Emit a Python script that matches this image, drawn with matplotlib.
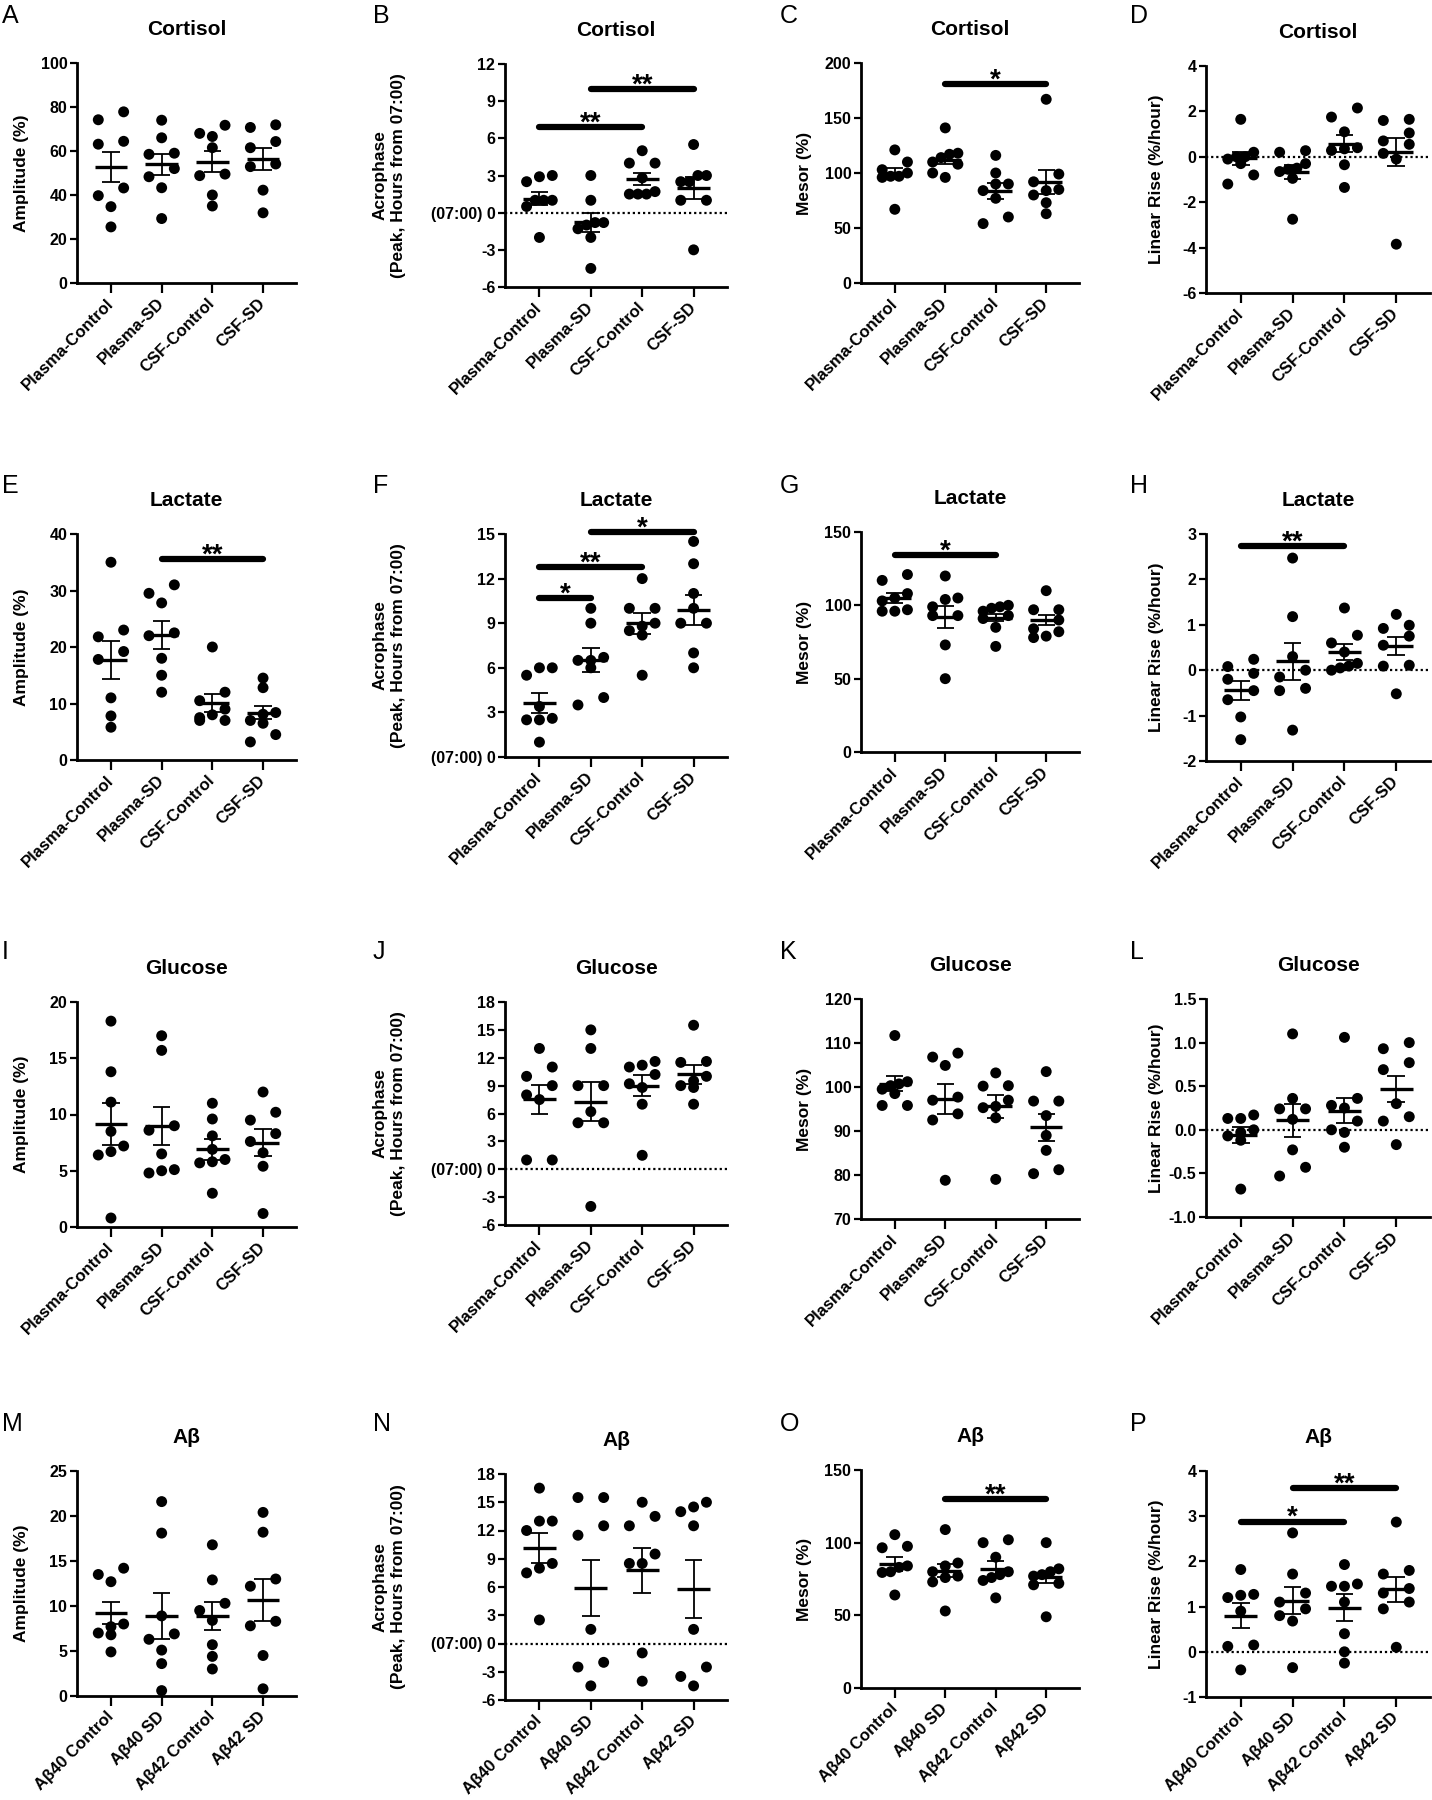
# Circadian parameters (amplitude, acrophase, mesor, linear rise) - scatter + mean/SEM grid
import numpy as np
import matplotlib
matplotlib.use("Agg")
import matplotlib.pyplot as plt

plt.rcParams['font.family'] = ['Liberation Sans', 'DejaVu Sans']
plt.rcParams['font.weight'] = 'bold'

groups = ["Plasma-Control", "Plasma-SD", "CSF-Control", "CSF-SD"]
groups_ab = ["Aβ40 Control", "Aβ40 SD", "Aβ42 Control", "Aβ42 SD"]

# ---- Cortisol
cort_amp = [[74.2, 77.8, 63.1, 64.4, 39.7, 43.2, 34.7, 25.5],
            [74.0, 66.0, 58.5, 59.0, 52.0, 48.3, 43.3, 29.3],
            [68.0, 71.7, 66.6, 61.5, 48.8, 49.5, 40.0, 35.0],
            [70.7, 71.9, 64.3, 61.5, 52.9, 54.1, 42.2, 31.9]]
cort_amp_mean = [52.9, 54.0, 55.2, 56.4]
cort_amp_sem = [6.85, 4.85, 4.7, 5.0]

cort_acro = [[3.0, 2.9, 2.5, 1.0, 1.0, 1.0, 0.5, -2.0],
             [3.0, 1.0, -0.8, -0.8, -1.0, -1.3, -2.0, -4.5],
             [5.0, 4.0, 4.0, 2.8, 1.7, 1.5, 1.5, 1.5],
             [5.5, 3.0, 3.0, 2.5, 2.5, 1.0, 1.0, -3.0]]
cort_acro_mean = [1.13, -0.77, 2.71, 1.99]
cort_acro_sem = [0.54, 0.77, 0.47, 0.9]

cort_mesor = [[121, 110, 103, 100, 97, 97, 96, 67],
              [141, 118, 117, 114, 110, 108, 100, 96],
              [116, 100, 90, 90, 84, 77, 60, 54],
              [167, 99, 92, 85, 84, 80, 73, 63]]
cort_mesor_mean = [100, 112, 83.3, 92]
cort_mesor_sem = [4.9, 4.1, 7.3, 11.0]

cort_rise = [[1.65, 0.2, 0.0, 0.0, -0.1, -0.3, -0.8, -1.2],
             [0.27, 0.2, -0.3, -0.5, -0.55, -0.65, -0.95, -2.75],
             [2.15, 1.75, 1.1, 0.4, 0.35, 0.28, -0.35, -1.35],
             [1.65, 1.6, 1.05, 0.7, 0.55, 0.15, -0.1, -3.85]]
cort_rise_mean = [-0.06, -0.69, 0.57, 0.22]
cort_rise_sem = [0.29, 0.31, 0.375, 0.63]

# ---- Lactate
lact_amp = [[35, 23, 21.8, 19.2, 17.8, 11, 7.8, 5.8],
            [31, 29.5, 27.8, 22.5, 22, 18, 15, 12],
            [20, 12, 10.5, 9, 8, 7.5, 7, 7],
            [14.5, 12.8, 8.4, 8.1, 7.0, 6.5, 4.5, 3.2]]
lact_amp_mean = [17.7, 22.1, 10.1, 8.4]
lact_amp_sem = [3.35, 2.5, 1.6, 1.1]

lact_acro = [[6, 6, 5.5, 3.4, 2.6, 2.5, 2.5, 1.0],
             [10, 9, 6.7, 6.5, 6.5, 6.0, 4.0, 3.5],
             [12, 10, 10, 9, 8.8, 8.5, 8.2, 5.5],
             [14.5, 13, 11, 10, 9, 9, 7, 6]]
lact_acro_mean = [3.65, 6.55, 9.0, 9.9]
lact_acro_sem = [0.67, 0.8, 0.7, 1.0]

lact_mesor = [[121, 117, 108, 105, 103, 97, 96, 96],
              [120, 105, 104, 99, 93, 93, 73, 50],
              [100, 99, 98, 96, 93, 91, 85, 72],
              [110, 97, 97, 90, 84, 82, 79, 78]]
lact_mesor_mean = [105, 92, 91.6, 89.8]
lact_mesor_sem = [3.2, 7.5, 2.4, 3.5]

lact_rise = [[0.24, 0.08, -0.07, -0.2, -0.45, -0.65, -1.03, -1.53],
             [2.47, 1.18, 0.3, 0.0, -0.15, -0.4, -0.45, -1.32],
             [1.37, 0.77, 0.6, 0.4, 0.15, 0.09, 0.05, 0.0],
             [1.23, 0.99, 0.92, 0.75, 0.55, 0.11, 0.09, -0.52]]
lact_rise_mean = [-0.44, 0.2, 0.4, 0.53]
lact_rise_sem = [0.21, 0.41, 0.18, 0.2]

# ---- Glucose
gluc_amp = [[18.3, 13.8, 11.1, 8.5, 7.2, 6.7, 6.4, 0.8],
            [17, 15.7, 9.0, 8.6, 6.5, 5.1, 5.0, 4.8],
            [11, 9.6, 8.1, 6.9, 6.0, 5.8, 5.7, 3.0],
            [12, 10.2, 9.5, 8.3, 7.6, 6.6, 5.4, 1.2]]
gluc_amp_mean = [9.15, 8.98, 6.9, 7.5]
gluc_amp_sem = [1.9, 1.7, 0.9, 1.2]

gluc_acro = [[13, 11, 10, 9, 8, 7.5, 1.0, 1.0],
             [15, 13, 9, 9, 6.2, 5.0, 5.0, -4],
             [11.6, 11.2, 11.0, 10.2, 9.2, 8.8, 7.0, 1.5],
             [15.5, 11.6, 11.5, 10.0, 9.5, 9.0, 8.8, 7.0]]
gluc_acro_mean = [7.55, 7.26, 9.0, 10.2]
gluc_acro_sem = [1.55, 2.1, 1.1, 1.0]

gluc_mesor = [[111.7, 101.2, 100.7, 100.3, 99.5, 98.5, 95.8, 95.8],
              [107.7, 106.8, 104.9, 97.7, 97.0, 93.9, 92.5, 78.8],
              [103.2, 100.3, 100.2, 97.0, 95.6, 95.3, 93.0, 79.0],
              [103.5, 96.8, 96.8, 93.5, 89.0, 85.6, 81.2, 80.3]]
gluc_mesor_mean = [100.7, 97.3, 95.6, 90.8]
gluc_mesor_sem = [1.7, 3.35, 2.65, 3.0]

gluc_rise = [[0.17, 0.13, 0.13, 0.0, -0.03, -0.07, -0.12, -0.68],
             [1.1, 0.36, 0.24, 0.24, 0.12, -0.23, -0.43, -0.53],
             [1.06, 0.36, 0.28, 0.25, 0.1, 0.0, -0.03, -0.2],
             [1.0, 0.93, 0.77, 0.69, 0.3, 0.15, 0.1, -0.17]]
gluc_rise_mean = [-0.06, 0.11, 0.22, 0.47]
gluc_rise_sem = [0.09, 0.19, 0.14, 0.15]

# ---- Abeta
ab_amp = [[14.2, 13.5, 12.7, 8.0, 7.7, 7.0, 6.8, 4.9],
          [21.6, 18.1, 8.9, 6.9, 6.3, 5.1, 3.6, 0.6],
          [16.8, 12.9, 10.3, 9.5, 8.4, 5.7, 4.4, 3.0],
          [20.4, 18.2, 13.0, 12.2, 8.3, 7.8, 4.5, 0.8]]
ab_amp_mean = [9.2, 8.93, 8.9, 10.67]
ab_amp_sem = [1.25, 2.55, 1.6, 2.3]

ab_acro = [[16.5, 13, 13, 12, 8.5, 8, 7.5, 2.5],
           [15.5, 15.5, 12.5, 11.5, 1.5, -2, -2.5, -4.5],
           [15, 13.5, 12.5, 9.5, 8.5, 8.5, -1, -4],
           [15, 14.5, 14, 12.5, 1.5, -2.5, -3.5, -4.5]]
ab_acro_mean = [10.14, 5.9, 7.77, 5.8]
ab_acro_sem = [1.55, 3.0, 2.4, 3.1]

ab_mesor = [[105.5, 97.5, 96.5, 84, 83, 80, 79.5, 64],
            [109, 86, 84, 80, 77, 76, 73, 53],
            [102, 100, 90, 80, 78, 76, 74, 62],
            [100, 82, 80, 78, 77, 72, 71, 49]]
ab_mesor_mean = [85.5, 80.8, 82, 76.2]
ab_mesor_sem = [4.9, 4.7, 5.6, 3.8]

ab_rise = [[1.82, 1.27, 1.25, 1.2, 0.9, 0.15, 0.12, -0.4],
           [2.63, 1.72, 1.3, 1.1, 0.95, 0.8, 0.68, -0.35],
           [1.93, 1.5, 1.45, 1.45, 1.1, 0.4, 0.0, -0.25],
           [2.87, 1.8, 1.72, 1.4, 1.3, 1.1, 0.95, 0.1]]
ab_rise_mean = [0.8, 1.13, 0.98, 1.38]
ab_rise_sem = [0.27, 0.3, 0.29, 0.28]

# significance bars: (group from, group to, height, stars)
sig_B = [(0, 2, 6.93, "**"), (1, 3, 10.0, "**")]
sig_C = [(1, 3, 181, "*")]
sig_E = [(1, 3, 35.6, "**")]
sig_F = [(0, 1, 10.7, "*"), (0, 2, 12.76, "**"), (1, 3, 15.15, "*")]
sig_G = [(0, 2, 134, "*")]
sig_H = [(0, 2, 2.74, "**")]
sig_O = [(1, 3, 130, "**")]
sig_P = [(0, 2, 2.88, "*"), (1, 3, 3.62, "**")]

amp_lab = "Amplitude (%)"
acro_lab = "Acrophase\n(Peak, Hours from 07:00)"
mesor_lab = "Mesor (%)"
rise_lab = "Linear Rise (%/hour)"

# letter, title, points, mean, sem, ylabel, ylim, ytick step, categories, sig
panels = [
    ("A", "Cortisol", cort_amp, cort_amp_mean, cort_amp_sem, amp_lab, (0, 100), 20, groups, []),
    ("B", "Cortisol", cort_acro, cort_acro_mean, cort_acro_sem, acro_lab, (-6, 12), 3, groups, sig_B),
    ("C", "Cortisol", cort_mesor, cort_mesor_mean, cort_mesor_sem, mesor_lab, (0, 200), 50, groups, sig_C),
    ("D", "Cortisol", cort_rise, cort_rise_mean, cort_rise_sem, rise_lab, (-6, 4), 2, groups, []),
    ("E", "Lactate", lact_amp, lact_amp_mean, lact_amp_sem, amp_lab, (0, 40), 10, groups, sig_E),
    ("F", "Lactate", lact_acro, lact_acro_mean, lact_acro_sem, acro_lab, (0, 15), 3, groups, sig_F),
    ("G", "Lactate", lact_mesor, lact_mesor_mean, lact_mesor_sem, mesor_lab, (0, 150), 50, groups, sig_G),
    ("H", "Lactate", lact_rise, lact_rise_mean, lact_rise_sem, rise_lab, (-2, 3), 1, groups, sig_H),
    ("I", "Glucose", gluc_amp, gluc_amp_mean, gluc_amp_sem, amp_lab, (0, 20), 5, groups, []),
    ("J", "Glucose", gluc_acro, gluc_acro_mean, gluc_acro_sem, acro_lab, (-6, 18), 3, groups, []),
    ("K", "Glucose", gluc_mesor, gluc_mesor_mean, gluc_mesor_sem, mesor_lab, (70, 120), 10, groups, []),
    ("L", "Glucose", gluc_rise, gluc_rise_mean, gluc_rise_sem, rise_lab, (-1.0, 1.5), 0.5, groups, []),
    ("M", "Aβ", ab_amp, ab_amp_mean, ab_amp_sem, amp_lab, (0, 25), 5, groups_ab, []),
    ("N", "Aβ", ab_acro, ab_acro_mean, ab_acro_sem, acro_lab, (-6, 18), 3, groups_ab, []),
    ("O", "Aβ", ab_mesor, ab_mesor_mean, ab_mesor_sem, mesor_lab, (0, 150), 50, groups_ab, sig_O),
    ("P", "Aβ", ab_rise, ab_rise_mean, ab_rise_sem, rise_lab, (-1, 4), 1, groups_ab, sig_P),
]

W, H = 1432, 1800
# axes boxes in pixels (x0, y0, x1, y1), y from top
col_x = [(77, 296), (505, 727), (861, 1079), (1206, 1430)]
row_y = [[(63, 283), (64, 287), (63, 283), (66, 293)],
         [(534, 760), (534, 757), (532, 752), (534, 761)],
         [(1002, 1227), (1002, 1225), (999, 1219), (999, 1217)],
         [(1471, 1696), (1474, 1700), (1470, 1688), (1471, 1697)]]
letter_x = [2, 373, 780, 1130]
letter_y = [4, 474, 940, 1412]
ylab_off = [-55, -116, -56, -49]

fig = plt.figure(figsize=(W / 100, H / 100), dpi=100)


def swarm(ax, vals, xc, thr=9.5):
    vals = np.asarray(vals, float)
    ypx = ax.transData.transform(np.c_[np.zeros(len(vals)), vals])[:, 1]
    order = np.argsort(-vals)
    rows = []
    for k in order:
        if rows and abs(ypx[rows[-1][0]] - ypx[k]) < thr:
            rows[-1].append(k)
        else:
            rows.append([k])
    xs = np.full(len(vals), float(xc))
    for r in rows:
        r = sorted(r, key=lambda k: vals[k])
        if len(r) > 1:
            xs[r] = xc + np.linspace(-0.25, 0.25, len(r))
    return xs


for n, (letter, title, pts, means, sems, ylab, ylim, step, cats, sig) in enumerate(panels):
    r, c = divmod(n, 4)
    x0, x1 = col_x[c]
    y0, y1 = row_y[r][c]
    ax = fig.add_axes([x0 / W, 1 - y1 / H, (x1 - x0) / W, (y1 - y0) / H])
    ax.set_xlim(-0.67, 3.65)
    ax.set_ylim(*ylim)
    ticks = np.arange(ylim[0], ylim[1] + step / 2, step)
    ax.set_yticks(ticks)
    if "Acrophase" in ylab:
        labs = ["(07:00) 0" if abs(t) < 1e-9 else "%g" % t for t in ticks]
    elif step < 1:
        labs = ["%.1f" % t for t in ticks]
    else:
        labs = ["%g" % t for t in ticks]
    ax.set_yticklabels(labs, fontsize=11.5, fontweight='bold')
    ax.set_xticks(range(4))
    ax.set_xticklabels(cats, rotation=45, ha='right', va='center', rotation_mode='anchor',
                       fontsize=12, fontweight='bold')
    for s in ['top', 'right']:
        ax.spines[s].set_visible(False)
    for s in ['left', 'bottom']:
        ax.spines[s].set_linewidth(2.0)
    ax.tick_params(axis='y', length=5, width=1.6, pad=2)
    ax.tick_params(axis='x', length=7, width=1.6, pad=6)

    if ylim[0] < 0:
        ax.axhline(0, color='black', lw=1.6, ls=(0, (1, 1.3)), zorder=1)

    for i in range(4):
        xs = swarm(ax, pts[i], i)
        ax.scatter(xs, pts[i], s=62, color='black', edgecolors='none', zorder=3, clip_on=False)
        m, e = means[i], sems[i]
        ax.hlines(m, i - 0.32, i + 0.32, color='black', lw=2.4, zorder=4)
        ax.vlines(i, m - e, m + e, color='black', lw=1.3, zorder=4)
        ax.hlines([m - e, m + e], i - 0.17, i + 0.17, color='black', lw=1.3, zorder=4)

    for a, b, y, lab in sig:
        ax.plot([a, b], [y, y], color='black', lw=4.5, solid_capstyle='round', clip_on=False, zorder=5)
        ax.annotate(lab, ((a + b) / 2, y), xytext=(0, -2.5), textcoords='offset points',
                    ha='center', va='baseline', fontsize=20, fontweight='bold', annotation_clip=False)

    ax.set_title(title, fontsize=15, fontweight='bold', pad=20)
    ax.set_ylabel(ylab, fontsize=12.5, fontweight='bold', va='center', linespacing=1.3)
    ax.yaxis.set_label_coords(ylab_off[c] / (x1 - x0), 0.5)

    fig.text(letter_x[c] / W, 1 - letter_y[r] / H, letter, fontsize=18, fontweight='normal',
             va='top', ha='left')

fig.savefig("out.png", dpi=100)
